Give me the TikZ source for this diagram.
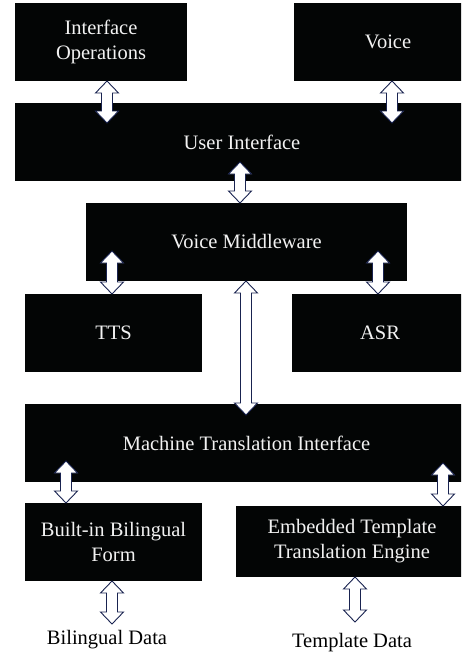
\documentclass[tikz,border=0pt]{standalone}
\usepackage{fontspec}
\setmainfont{Liberation Serif}
\usetikzlibrary{calc}
\definecolor{boxc}{RGB}{3,5,5}
\definecolor{arrc}{RGB}{25,35,80}
\definecolor{txtc}{RGB}{242,242,242}
\newcommand\dblarr[2]{\path[arr] let \p1=(#1), \p2=(#2) in
  (\x1,\y1) -- ({\x1+11.5pt},{\y1-12pt}) -- ({\x1+5.5pt},{\y1-12pt}) --
  ({\x1+5.5pt},{\y2+12pt}) -- ({\x1+11.5pt},{\y2+12pt}) -- (\x1,\y2) --
  ({\x1-11.5pt},{\y2+12pt}) -- ({\x1-5.5pt},{\y2+12pt}) --
  ({\x1-5.5pt},{\y1-12pt}) -- ({\x1-11.5pt},{\y1-12pt}) -- cycle;}
\begin{document}
\begin{tikzpicture}[x=1pt,y=-1pt,
  box/.style={fill=boxc, draw=none, text=txtc, align=center, inner sep=0pt, outer sep=0pt, font=\fontsize{20.5}{25}\selectfont},
  arr/.style={draw=arrc, fill=white, line width=0.9pt, line join=miter},
  lbl/.style={text=black, inner sep=0pt, font=\fontsize{20.5}{25}\selectfont}]
\useasboundingbox (0,0) rectangle (461,656);
\clip (0,0) rectangle (461,656);
\node[box, minimum width=172pt, minimum height=78pt] (io) at (101,42) {Interface\\Operations};
\node[box, minimum width=188pt, minimum height=78pt] (voice) at (388,42) {Voice};
\node[box, minimum width=454pt, minimum height=78pt] (ui) at (242,142) {User Interface};
\node[box, minimum width=321pt, minimum height=78pt] (vm) at (246.5,242) {Voice Middleware};
\node[box, minimum width=177pt, minimum height=78pt] (tts) at (113.5,333) {TTS};
\node[box, minimum width=176pt, minimum height=78pt] (asr) at (380,333) {ASR};
\node[box, minimum width=443pt, minimum height=78pt] (mti) at (246.5,443) {Machine Translation Interface};
\node[box, minimum width=177pt, minimum height=78pt] (bbf) at (113.5,542) {Built-in Bilingual\\Form};
\node[box, minimum width=232pt, minimum height=71pt] (ette) at (352,541.5) {Embedded Template\\Translation Engine};
\node[lbl] (bd) at (107,640) {Bilingual Data};
\node[lbl] (td) at (352,643) {Template Data};
% arrow end points
\coordinate (a1s) at (107,81);  \coordinate (a1e) at (107,123);
\coordinate (a2s) at (392,81);  \coordinate (a2e) at (392,123);
\coordinate (a3s) at (240,162); \coordinate (a3e) at (240,203);
\coordinate (a4s) at (112,251); \coordinate (a4e) at (112,294);
\coordinate (a5s) at (378,251); \coordinate (a5e) at (378,294);
\coordinate (a6s) at (246,281); \coordinate (a6e) at (246,415);
\coordinate (a7s) at (66,461);  \coordinate (a7e) at (66,503);
\coordinate (a8s) at (443,463); \coordinate (a8e) at (443,506);
\coordinate (a9s) at (112,581); \coordinate (a9e) at (112,624);
\coordinate (a10s) at (355,577); \coordinate (a10e) at (355,622);
\dblarr{a1s}{a1e}
\dblarr{a2s}{a2e}
\dblarr{a3s}{a3e}
\dblarr{a4s}{a4e}
\dblarr{a5s}{a5e}
\dblarr{a6s}{a6e}
\dblarr{a7s}{a7e}
\dblarr{a8s}{a8e}
\dblarr{a9s}{a9e}
\dblarr{a10s}{a10e}
\end{tikzpicture}
\end{document}
